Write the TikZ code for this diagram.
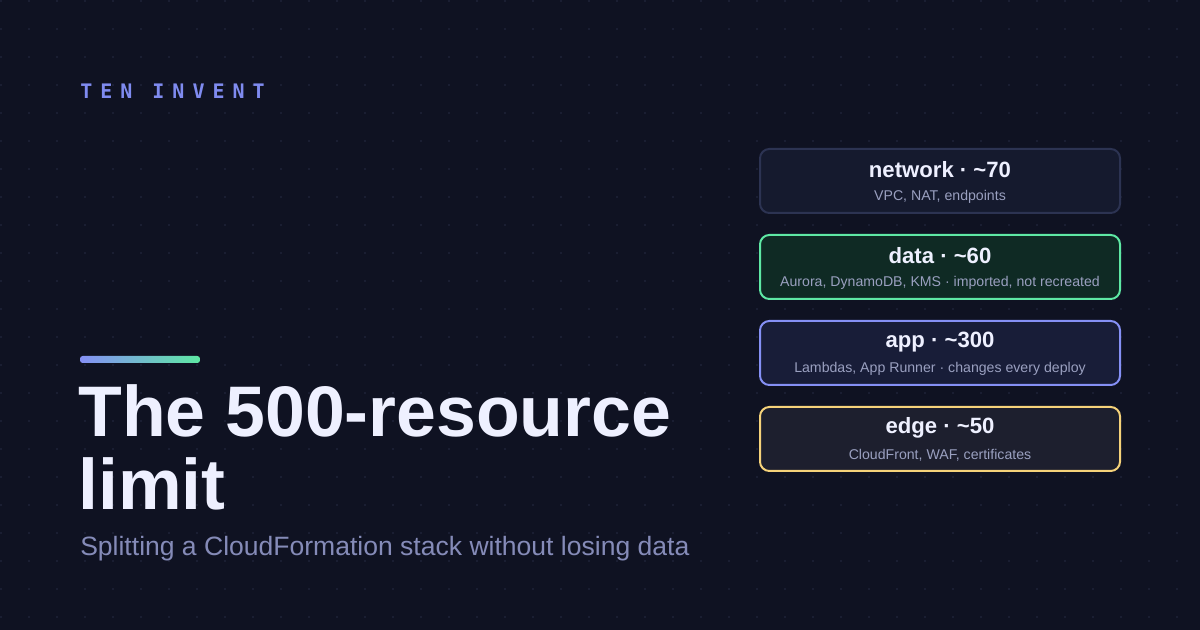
\documentclass[tikz,border=0pt]{standalone}
\usepackage{fontspec}
\setmainfont{Liberation Sans}
\newfontfamily\monofont[LetterSpace=40]{DejaVu Sans Mono}
\usetikzlibrary{positioning}
\definecolor{bgcol}{HTML}{0F1222}
\definecolor{dotcol}{HTML}{1E2338}
\definecolor{brandcol}{HTML}{7F8BF0}
\definecolor{titlecol}{HTML}{EEF0FF}
\definecolor{subcol}{HTML}{858BB8}
\definecolor{notecol}{HTML}{9AA0C0}
\definecolor{netfill}{HTML}{151A2E}
\definecolor{netline}{HTML}{2C3352}
\definecolor{datafill}{HTML}{0F2A24}
\definecolor{dataline}{HTML}{5EE8A4}
\definecolor{appfill}{HTML}{181D38}
\definecolor{appline}{HTML}{8590F5}
\definecolor{edgefill}{HTML}{1D1F2E}
\definecolor{edgeline}{HTML}{F5D27A}
\tikzset{
  layer/.style={draw=#1line, fill=#1fill, line width=1.5pt, rounded corners=7pt,
    minimum width=270pt, minimum height=48pt, inner sep=0pt},
  head/.style={text=titlecol, font=\fontsize{16.6}{19}\selectfont\bfseries},
  note/.style={text=notecol, font=\fontsize{10.6}{13}\selectfont}
}
\begin{document}
\begin{tikzpicture}[x=0.75pt,y=-0.75pt]
  \fill[bgcol] (0,0) rectangle (1200,630);
  \useasboundingbox (0,0) rectangle (1200,630);
  \foreach \i in {0,...,42} {
    \foreach \j in {0,...,22} {
      \fill[dotcol] (1+28*\i,1+28*\j) circle (0.9pt);
    }
  }

  \node[anchor=west, text=brandcol, font=\monofont\bfseries\fontsize{15}{18}\selectfont,
    inner sep=0pt] (brand) at (80,91) {TEN INVENT};

  \shade[left color=appline, right color=dataline, rounded corners=2pt]
    (80,356) rectangle (200,363);
  \node[anchor=base west, text=titlecol, align=left, inner sep=0pt,
    font=\fontsize{53.7}{55}\selectfont\bfseries] (title) at (78,510)
    {The 500-resource\\limit};
  \node[anchor=west, text=subcol, inner sep=0pt,
    font=\fontsize{19.9}{23}\selectfont] (subtitle) at (80,549)
    {Splitting a CloudFormation stack without losing data};

  % layers
  \node[layer=net]  (network) at (940,181) {};
  \node[layer=data] (data)    at (940,267) {};
  \node[layer=app]  (app)     at (940,353) {};
  \node[layer=edge] (edge)    at (940,439) {};

  \foreach \n/\h/\t in {network/network · \textasciitilde70/{VPC, NAT, endpoints},
      data/data · \textasciitilde60/{Aurora, DynamoDB, KMS · imported, not recreated},
      app/app · \textasciitilde300/{Lambdas, App Runner · changes every deploy},
      edge/edge · \textasciitilde50/{CloudFront, WAF, certificates}} {
    \node[head] at ([yshift=8.5pt]\n.center) {\h};
    \node[note] at ([yshift=-12pt]\n.center) {\t};
  }
\end{tikzpicture}
\end{document}
